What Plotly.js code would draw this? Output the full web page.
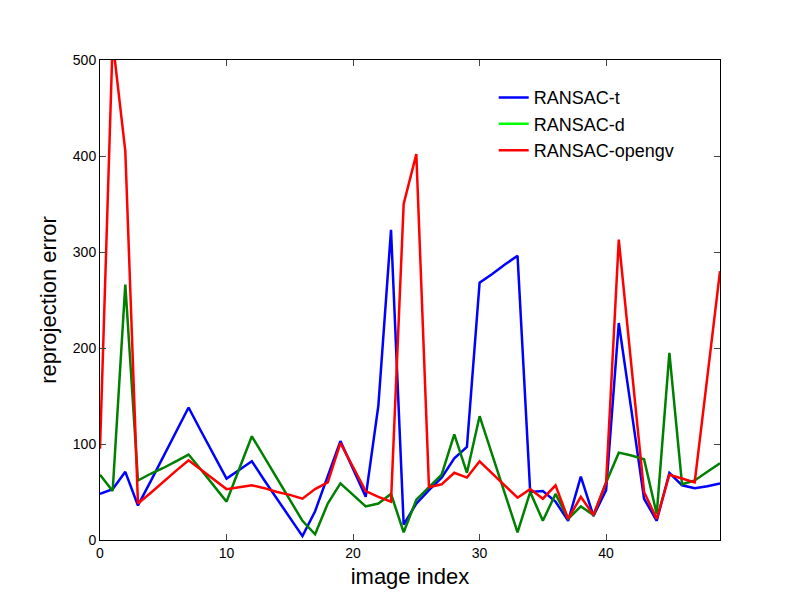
<!DOCTYPE html>
<html>
<head>
<script src="https://cdn.plot.ly/plotly-3.0.1.min.js"></script>
<style>body{margin:0}</style>
</head>
<body>
<div id="plot" style="width:800px;height:600px"></div>
<script>
var idx = [];
for (var i = 0; i < 50; i++) idx.push(i);

var ransacT = [48, 53, 71, 36, 61, 87, 112, 138, 113, 89,
  64, 73, 82, 62, 43, 23, 4, 30, 66, 103,
  74, 45, 140, 323, 16, 38, 52, 65, 85, 97,
  268, 277, 287, 296, 50, 51, 40, 20, 66, 25,
  52, 226, 135, 43, 20, 70, 57, 54, 56, 59];
var ransacD = [68, 51, 266, 62, 69, 75, 82, 89, 73, 56,
  40, 74, 108, 86, 64, 42, 20, 6, 38, 59,
  47, 35, 38, 48, 8, 42, 55, 68, 110, 70,
  129, 89, 48, 8, 50, 20, 48, 22, 35, 26,
  60, 91, 88, 84, 27, 195, 58, 62, 71, 80];
var ransacG = [95, 520, 405, 38, 49, 60, 72, 83, 73, 63,
  53, 55, 57, 54, 50, 47, 43, 53, 60, 101,
  76, 51, 45, 40, 350, 402, 55, 58, 70, 65,
  82, 69, 56, 44, 53, 43, 57, 22, 45, 26,
  60, 313, 181, 50, 22, 68, 64, 60, 170, 280];

function tr(y, name, color, show, rank) {
  return {x: idx, y: y, name: name, mode: 'lines', type: 'scatter',
    line: {color: color, width: 2.5}, showlegend: show, legendrank: rank};
}
var data = [
  tr(ransacT, 'RANSAC-t', '#0000ff', true, 1),
  tr(ransacD, 'RANSAC-d', '#008000', false, 2),
  {x: [null], y: [null], name: 'RANSAC-d', mode: 'lines', type: 'scatter',
    line: {color: '#00ff00', width: 2.5}, legendrank: 2},
  tr(ransacG, 'RANSAC-opengv', '#ff0000', true, 3)
];
var axis = {showgrid: false, zeroline: false, mirror: 'ticks', ticks: 'inside',
  ticklen: 6, showline: true, linecolor: '#000', linewidth: 1,
  tickfont: {size: 14, color: '#000'}};
var layout = {
  width: 800, height: 600,
  margin: {l: 100, r: 80, t: 60, b: 60},
  paper_bgcolor: '#fff',
  plot_bgcolor: '#fff',
  font: {family: 'Liberation Sans, Arial, sans-serif', color: '#000'},
  xaxis: Object.assign({}, axis, {range: [0, 49], tickvals: [0, 10, 20, 30, 40],
    title: {text: 'image index', font: {size: 22}, standoff: 8}}),
  yaxis: Object.assign({}, axis, {range: [0, 500], tickvals: [0, 100, 200, 300, 400, 500],
    title: {text: 'reprojection error', font: {size: 22}, standoff: 10}}),
  legend: {x: 0.635, y: 0.96, xanchor: 'left', yanchor: 'top', bgcolor: 'rgba(0,0,0,0)',
    font: {size: 18}, tracegroupgap: 0}
};
Plotly.newPlot('plot', data, layout, {staticPlot: true});
</script>
</body>
</html>
